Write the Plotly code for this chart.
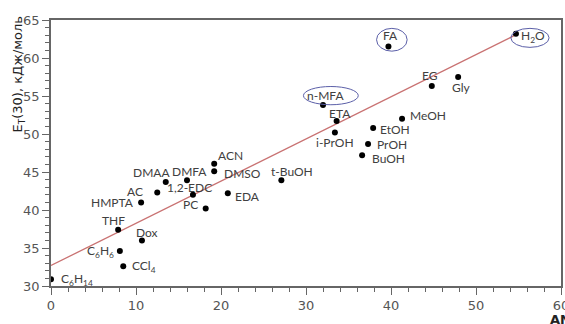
import plotly.graph_objects as go

# ---- data ----
names = ["C6H14", "C6H6", "CCl4", "THF", "Dox", "HMPTA", "AC", "DMAA", "DMFA",
         "1,2-EDC", "PC", "ACN", "DMSO", "EDA", "t-BuOH", "i-PrOH", "ETA",
         "n-MFA", "FA", "H2O", "EG", "Gly", "MeOH", "EtOH", "PrOH", "BuOH"]
labels = ["C<sub>6</sub>H<sub>14</sub>", "C<sub>6</sub>H<sub>6</sub>", "CCl<sub>4</sub>",
          "THF", "Dox", "HMPTA", "AC", "DMAA", "DMFA", "1,2-EDC", "PC", "ACN",
          "DMSO", "EDA", "t-BuOH", "i-PrOH", "ETA", "n-MFA", "FA",
          "H<sub>2</sub>O", "EG", "Gly", "MeOH", "EtOH", "PrOH", "BuOH"]
AN = [0.0, 8.1, 8.5, 7.9, 10.7, 10.6, 12.5, 13.5, 16.0, 16.7, 18.2, 19.2, 19.2,
      20.8, 27.1, 33.4, 33.6, 32.0, 39.7, 54.7, 44.8, 47.9, 41.3, 37.9, 37.3, 36.6]
ET = [30.9, 34.6, 32.6, 37.4, 36.0, 41.0, 42.3, 43.7, 43.9, 42.0, 40.2, 46.1, 45.1,
      42.2, 43.9, 50.2, 51.7, 53.8, 61.5, 63.2, 56.3, 57.5, 52.0, 50.8, 48.7, 47.2]

fit_x = [0.0, 54.6]
fit_y = [32.7, 63.0]

# encircled points (ellipse extents in data units)
circled = {"n-MFA": (29.7, 36.15, 53.85, 56.25),
           "FA": (38.3, 41.9, 60.9, 63.9),
           "H2O": (54.1, 58.6, 61.4, 63.9)}

# ---- label placement (anchor, pixel offsets) ----
place = {
    "C6H14": ("left", 8, 0), "C6H6": ("right", -4, 0), "CCl4": ("left", 7, 0),
    "THF": ("center", -5, 9), "Dox": ("center", 5, 8), "HMPTA": ("right", -5, 0),
    "AC": ("right", -12, 1), "DMAA": ("center", -14, 9), "DMFA": ("center", 2, 9),
    "1,2-EDC": ("center", -3, 7), "PC": ("right", -6, 4), "ACN": ("center", 16, 8),
    "DMSO": ("left", 8, -2), "EDA": ("left", 5, -3), "t-BuOH": ("center", 11, 9),
    "i-PrOH": ("center", 0, -10), "ETA": ("center", 3, 8), "n-MFA": ("center", 2, 10),
    "FA": ("center", 2, 11), "H2O": ("left", 3, -3), "EG": ("center", -2, 11),
    "Gly": ("center", 3, -10), "MeOH": ("left", 6, 3), "EtOH": ("left", 5, -2),
    "PrOH": ("left", 7, -1), "BuOH": ("left", 8, -3),
}

fig = go.Figure()
fig.add_trace(go.Scatter(x=fit_x, y=fit_y, mode="lines",
                         line=dict(color="#c97272", width=1.3),
                         hoverinfo="skip", showlegend=False))
fig.add_trace(go.Scatter(x=AN, y=ET, mode="markers",
                         marker=dict(color="black", size=6),
                         text=names, showlegend=False))

annotations = []
for n, lab, x, y in zip(names, labels, AN, ET):
    anc, dx, dy = place[n]
    annotations.append(dict(x=x, y=y, xref="x", yref="y", text=lab, showarrow=False,
                            xanchor=anc, yanchor="middle", xshift=dx, yshift=dy,
                            font=dict(family="Lato", size=12, color="#404040")))

annotations.append(dict(xref="paper", yref="paper", x=0, y=0.795, xanchor="center",
                        yanchor="middle", xshift=-32, textangle=-90, showarrow=False,
                        text="E<sub>T</sub>(30), кДж/моль",
                        font=dict(family="DejaVu Sans", size=13, color="#222")))
annotations.append(dict(xref="paper", yref="paper", x=0.974, y=-0.125, xanchor="left",
                        yanchor="middle", showarrow=False, text="<b>AN</b>",
                        font=dict(family="DejaVu Sans", size=13, color="#222")))

shapes = []
for n, (x0, x1, y0, y1) in circled.items():
    shapes.append(dict(type="circle", xref="x", yref="y", x0=x0, x1=x1, y0=y0, y1=y1,
                       line=dict(color="#5b5fa8", width=1)))

axis_common = dict(showgrid=False, zeroline=False, showline=True, linecolor="#666",
                   linewidth=1.5, mirror=True, ticks="outside", tickcolor="#666",
                   ticklen=7, tickwidth=1, ticklabeloverflow="allow", automargin=False,
                   tickfont=dict(family="DejaVu Sans", size=13, color="#555"))

fig.update_xaxes(range=[0, 60], dtick=10,
                 minor=dict(dtick=2, ticks="outside", ticklen=4, tickcolor="#666"),
                 **axis_common)
fig.update_yaxes(range=[30, 65], dtick=5,
                 minor=dict(dtick=1, ticks="outside", ticklen=4, tickcolor="#666"),
                 **axis_common)

fig.update_layout(width=565, height=324, margin=dict(l=51, r=4, t=20, b=38),
                  plot_bgcolor="white", paper_bgcolor="white",
                  annotations=annotations, shapes=shapes)

fig.write_html("out.html")
